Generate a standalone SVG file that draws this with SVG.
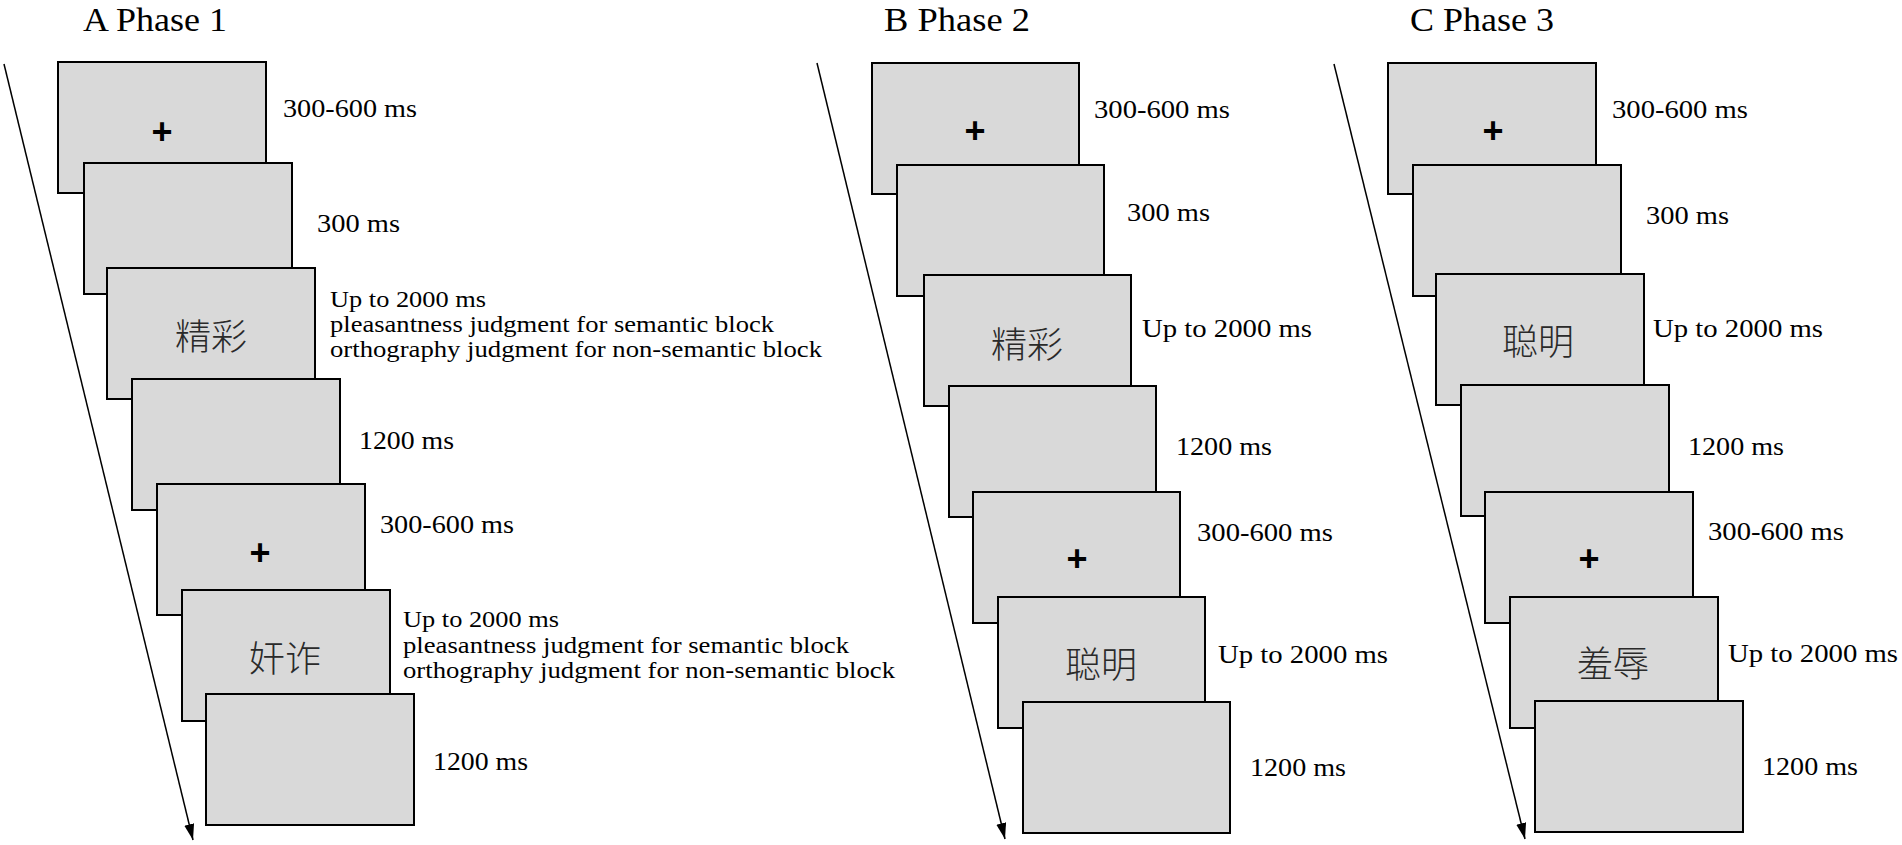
<svg xmlns="http://www.w3.org/2000/svg" width="1902" height="845" viewBox="0 0 1902 845">
<style>
.scr{fill:#d9d9d9;stroke:#000;stroke-width:2}
.t{font-family:"Liberation Serif","Times New Roman",serif;font-size:25px;fill:#000}
.s{font-family:"Liberation Serif","Times New Roman",serif;font-size:23px;fill:#000}
.ttl{font-family:"Liberation Serif","Times New Roman",serif;font-size:34px;fill:#000}
.fix{font-family:"Liberation Sans",Arial,sans-serif;font-size:36px;font-weight:bold;fill:#000;text-anchor:middle}
.cj{font-family:"Noto Sans CJK SC","Noto Sans CJK TC",sans-serif;font-size:36px;font-weight:300;fill:#2a2a2a;text-anchor:middle}
.arr{stroke:#000;stroke-width:1.5;fill:none}
</style>
<defs>
<marker id="ah" markerUnits="userSpaceOnUse" markerWidth="18" markerHeight="12" refX="16" refY="5" orient="auto">
<path d="M0,0 L16,5 L0,10 z" fill="#000"/>
</marker>
</defs>
<rect width="1902" height="845" fill="#fff"/>

<g id="titles">
<text class="ttl" x="83" y="31" textLength="144" lengthAdjust="spacingAndGlyphs">A Phase 1</text>
<text class="ttl" x="884" y="31" textLength="146" lengthAdjust="spacingAndGlyphs">B Phase 2</text>
<text class="ttl" x="1410" y="31" textLength="144" lengthAdjust="spacingAndGlyphs">C Phase 3</text>
</g>

<g id="connectors">
<line class="arr" x1="4" y1="64" x2="193" y2="840" marker-end="url(#ah)"/>
<line class="arr" x1="817" y1="63" x2="1005" y2="839" marker-end="url(#ah)"/>
<line class="arr" x1="1334" y1="64" x2="1525" y2="839" marker-end="url(#ah)"/>
</g>

<!-- Panel A -->
<g id="A1"><rect class="scr" x="58" y="62" width="208" height="131"/><text class="fix" x="162" y="144">+</text><text class="t" x="283" y="117" textLength="134" lengthAdjust="spacingAndGlyphs">300-600 ms</text></g>
<g id="A2"><rect class="scr" x="84" y="163" width="208" height="131"/><text class="t" x="317" y="232" textLength="83" lengthAdjust="spacingAndGlyphs">300 ms</text></g>
<g id="A3"><rect class="scr" x="107" y="268" width="208" height="131"/><text class="cj" x="211" y="350">精彩</text>
<text class="s" x="330" y="307" textLength="156" lengthAdjust="spacingAndGlyphs">Up to 2000 ms</text>
<text class="s" x="330" y="332" textLength="444" lengthAdjust="spacingAndGlyphs">pleasantness judgment for semantic block</text>
<text class="s" x="330" y="357" textLength="492" lengthAdjust="spacingAndGlyphs">orthography judgment for non-semantic block</text></g>
<g id="A4"><rect class="scr" x="132" y="379" width="208" height="131"/><text class="t" x="359" y="449" textLength="95" lengthAdjust="spacingAndGlyphs">1200 ms</text></g>
<g id="A5"><rect class="scr" x="157" y="484" width="208" height="131"/><text class="fix" x="260" y="565">+</text><text class="t" x="380" y="533" textLength="134" lengthAdjust="spacingAndGlyphs">300-600 ms</text></g>
<g id="A6"><rect class="scr" x="182" y="590" width="208" height="131"/><text class="cj" x="285" y="672">奸诈</text>
<text class="s" x="403" y="627" textLength="156" lengthAdjust="spacingAndGlyphs">Up to 2000 ms</text>
<text class="s" x="403" y="653" textLength="446" lengthAdjust="spacingAndGlyphs">pleasantness judgment for semantic block</text>
<text class="s" x="403" y="678" textLength="492" lengthAdjust="spacingAndGlyphs">orthography judgment for non-semantic block</text></g>
<g id="A7"><rect class="scr" x="206" y="694" width="208" height="131"/><text class="t" x="433" y="770" textLength="95" lengthAdjust="spacingAndGlyphs">1200 ms</text></g>

<!-- Panel B -->
<g id="B1"><rect class="scr" x="872" y="63" width="207" height="131"/><text class="fix" x="975" y="143">+</text><text class="t" x="1094" y="118" textLength="136" lengthAdjust="spacingAndGlyphs">300-600 ms</text></g>
<g id="B2"><rect class="scr" x="897" y="165" width="207" height="131"/><text class="t" x="1127" y="221" textLength="83" lengthAdjust="spacingAndGlyphs">300 ms</text></g>
<g id="B3"><rect class="scr" x="924" y="275" width="207" height="131"/><text class="cj" x="1027" y="358">精彩</text><text class="t" x="1142" y="337" textLength="170" lengthAdjust="spacingAndGlyphs">Up to 2000 ms</text></g>
<g id="B4"><rect class="scr" x="949" y="386" width="207" height="131"/><text class="t" x="1176" y="455" textLength="96" lengthAdjust="spacingAndGlyphs">1200 ms</text></g>
<g id="B5"><rect class="scr" x="973" y="492" width="207" height="131"/><text class="fix" x="1077" y="571">+</text><text class="t" x="1197" y="541" textLength="136" lengthAdjust="spacingAndGlyphs">300-600 ms</text></g>
<g id="B6"><rect class="scr" x="998" y="597" width="207" height="131"/><text class="cj" x="1101" y="678">聪明</text><text class="t" x="1218" y="663" textLength="170" lengthAdjust="spacingAndGlyphs">Up to 2000 ms</text></g>
<g id="B7"><rect class="scr" x="1023" y="702" width="207" height="131"/><text class="t" x="1250" y="776" textLength="96" lengthAdjust="spacingAndGlyphs">1200 ms</text></g>

<!-- Panel C -->
<g id="C1"><rect class="scr" x="1388" y="63" width="208" height="131"/><text class="fix" x="1493" y="143">+</text><text class="t" x="1612" y="118" textLength="136" lengthAdjust="spacingAndGlyphs">300-600 ms</text></g>
<g id="C2"><rect class="scr" x="1413" y="165" width="208" height="131"/><text class="t" x="1646" y="224" textLength="83" lengthAdjust="spacingAndGlyphs">300 ms</text></g>
<g id="C3"><rect class="scr" x="1436" y="274" width="208" height="131"/><text class="cj" x="1538" y="355">聪明</text><text class="t" x="1653" y="337" textLength="170" lengthAdjust="spacingAndGlyphs">Up to 2000 ms</text></g>
<g id="C4"><rect class="scr" x="1461" y="385" width="208" height="131"/><text class="t" x="1688" y="455" textLength="96" lengthAdjust="spacingAndGlyphs">1200 ms</text></g>
<g id="C5"><rect class="scr" x="1485" y="492" width="208" height="131"/><text class="fix" x="1589" y="571">+</text><text class="t" x="1708" y="540" textLength="136" lengthAdjust="spacingAndGlyphs">300-600 ms</text></g>
<g id="C6"><rect class="scr" x="1510" y="597" width="208" height="131"/><text class="cj" x="1613" y="677">羞辱</text><text class="t" x="1728" y="662" textLength="170" lengthAdjust="spacingAndGlyphs">Up to 2000 ms</text></g>
<g id="C7"><rect class="scr" x="1535" y="701" width="208" height="131"/><text class="t" x="1762" y="775" textLength="96" lengthAdjust="spacingAndGlyphs">1200 ms</text></g>
</svg>
